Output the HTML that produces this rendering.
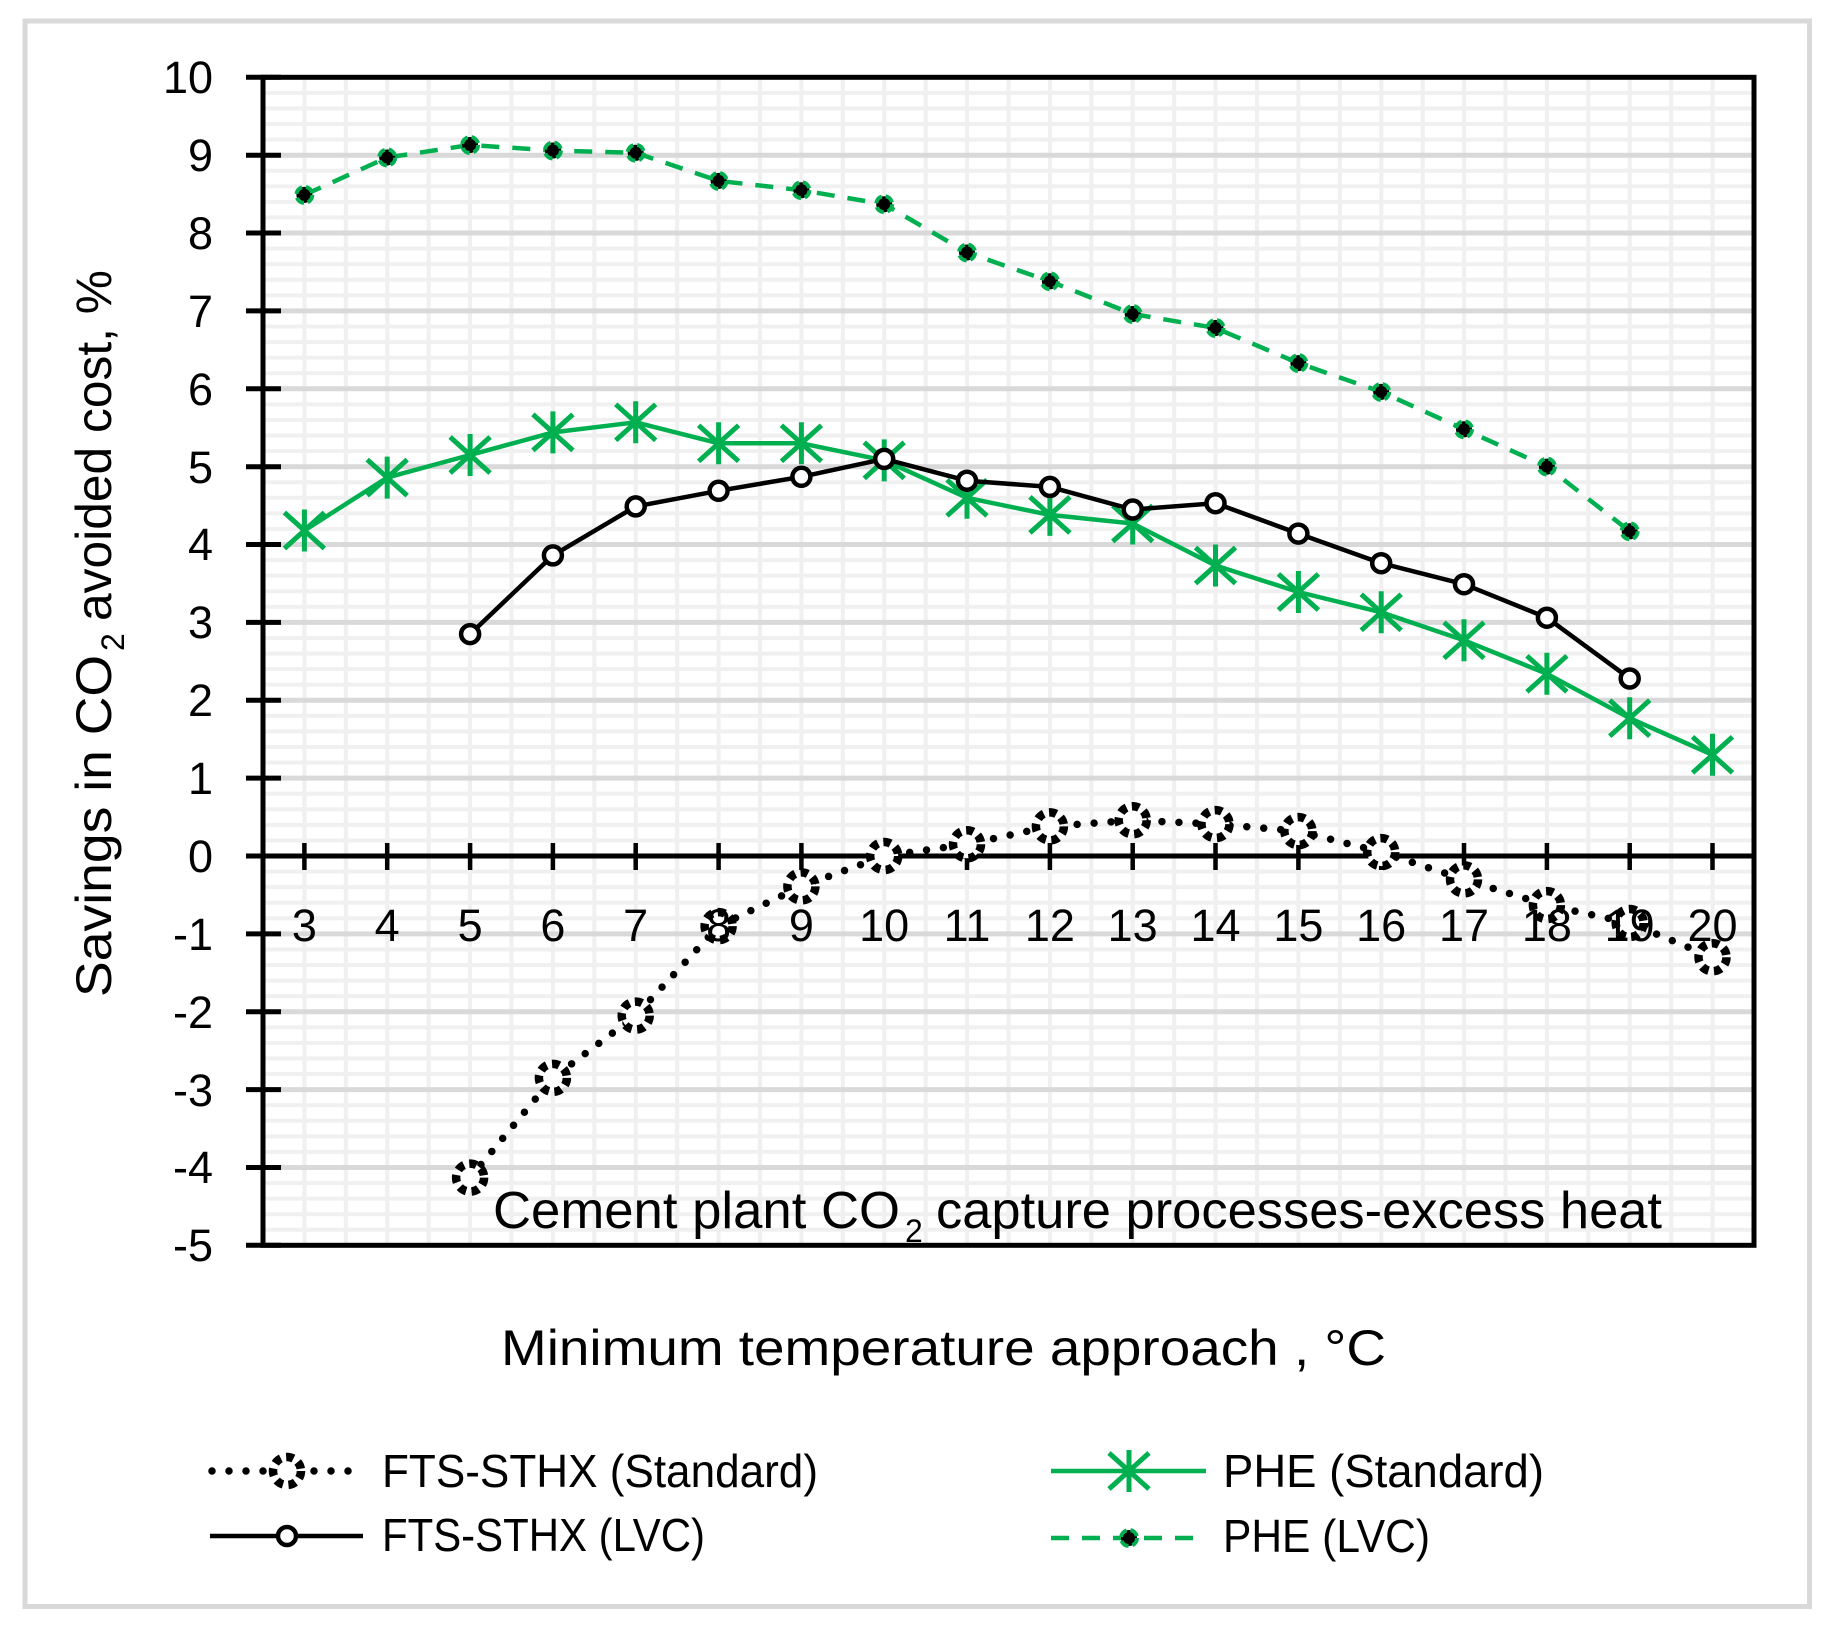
<!DOCTYPE html>
<html>
<head>
<meta charset="utf-8">
<style>
  html, body { margin: 0; padding: 0; background: #ffffff; }
  svg { display: block; }
  text { font-family: "Liberation Sans", "DejaVu Sans", sans-serif; fill: #000; }
</style>
</head>
<body>
<svg width="1828" height="1637" viewBox="0 0 1828 1637" xmlns="http://www.w3.org/2000/svg">
  <defs>
    <pattern id="grid" patternUnits="userSpaceOnUse" x="263" y="77.3" width="41.417" height="15.574">
      <rect x="0" y="0" width="41.417" height="15.574" fill="#ffffff"/>
      <rect x="0" y="-2" width="41.417" height="4" fill="#f0f0f0"/>
      <rect x="0" y="13.574" width="41.417" height="4" fill="#f0f0f0"/>
      <rect x="-2" y="0" width="4" height="15.574" fill="#f0f0f0"/>
      <rect x="39.417" y="0" width="4" height="15.574" fill="#f0f0f0"/>
    </pattern>
    <g id="mFstd"><circle cx="0" cy="0" r="14" fill="#fff" stroke="#000" stroke-width="8.5" stroke-dasharray="7.5 5.5"/></g>
    <g id="mFlvc"><circle cx="0" cy="0" r="9" fill="#fff" stroke="#000" stroke-width="4.5"/></g>
    <g id="mPstd"><path d="M-20,-18 L20,18 M-20,18 L20,-18 M0,-21 V21" stroke="#00b050" stroke-width="5" fill="none"/></g>
    <g id="mPlvc"><circle cx="0" cy="0" r="8" fill="#000" stroke="#00b050" stroke-width="4" stroke-dasharray="9 4"/></g>
  </defs>

  <!-- outer frame -->
  <rect x="25" y="21" width="1784.5" height="1585.5" fill="#ffffff" stroke="#d9d9d9" stroke-width="5"/>

  <!-- plot area grid -->
  <rect x="263" y="77.3" width="1491" height="1168" fill="url(#grid)"/>

  <!-- major horizontal gridlines -->
  <g stroke="#d9d9d9" stroke-width="5">
    <line x1="263" x2="1754" y1="155.2" y2="155.2"/>
    <line x1="263" x2="1754" y1="233.0" y2="233.0"/>
    <line x1="263" x2="1754" y1="310.9" y2="310.9"/>
    <line x1="263" x2="1754" y1="388.8" y2="388.8"/>
    <line x1="263" x2="1754" y1="466.7" y2="466.7"/>
    <line x1="263" x2="1754" y1="544.5" y2="544.5"/>
    <line x1="263" x2="1754" y1="622.4" y2="622.4"/>
    <line x1="263" x2="1754" y1="700.3" y2="700.3"/>
    <line x1="263" x2="1754" y1="778.1" y2="778.1"/>
    <line x1="263" x2="1754" y1="933.9" y2="933.9"/>
    <line x1="263" x2="1754" y1="1011.7" y2="1011.7"/>
    <line x1="263" x2="1754" y1="1089.6" y2="1089.6"/>
    <line x1="263" x2="1754" y1="1167.5" y2="1167.5"/>
  </g>

  <!-- plot border -->
  <rect x="263" y="77.3" width="1491" height="1168" fill="none" stroke="#000" stroke-width="5"/>

  <!-- y-axis ticks -->
  <g stroke="#000" stroke-width="5">
    <line x1="246" x2="281" y1="77.3" y2="77.3"/>
    <line x1="246" x2="281" y1="155.2" y2="155.2"/>
    <line x1="246" x2="281" y1="233.0" y2="233.0"/>
    <line x1="246" x2="281" y1="310.9" y2="310.9"/>
    <line x1="246" x2="281" y1="388.8" y2="388.8"/>
    <line x1="246" x2="281" y1="466.7" y2="466.7"/>
    <line x1="246" x2="281" y1="544.5" y2="544.5"/>
    <line x1="246" x2="281" y1="622.4" y2="622.4"/>
    <line x1="246" x2="281" y1="700.3" y2="700.3"/>
    <line x1="246" x2="281" y1="778.1" y2="778.1"/>
    <line x1="246" x2="281" y1="856.0" y2="856.0"/>
    <line x1="246" x2="281" y1="933.9" y2="933.9"/>
    <line x1="246" x2="281" y1="1011.7" y2="1011.7"/>
    <line x1="246" x2="281" y1="1089.6" y2="1089.6"/>
    <line x1="246" x2="281" y1="1167.5" y2="1167.5"/>
    <line x1="246" x2="281" y1="1245.3" y2="1245.3"/>
  </g>

  <!-- x axis at zero -->
  <line x1="263" x2="1754" y1="856" y2="856" stroke="#000" stroke-width="5"/>
  <g stroke="#000" stroke-width="4.5">
    <line x1="304.4" x2="304.4" y1="843" y2="870"/>
    <line x1="387.2" x2="387.2" y1="843" y2="870"/>
    <line x1="470.1" x2="470.1" y1="843" y2="870"/>
    <line x1="552.9" x2="552.9" y1="843" y2="870"/>
    <line x1="635.7" x2="635.7" y1="843" y2="870"/>
    <line x1="718.6" x2="718.6" y1="843" y2="870"/>
    <line x1="801.4" x2="801.4" y1="843" y2="870"/>
    <line x1="884.2" x2="884.2" y1="843" y2="870"/>
    <line x1="967.0" x2="967.0" y1="843" y2="870"/>
    <line x1="1049.9" x2="1049.9" y1="843" y2="870"/>
    <line x1="1132.7" x2="1132.7" y1="843" y2="870"/>
    <line x1="1215.5" x2="1215.5" y1="843" y2="870"/>
    <line x1="1298.4" x2="1298.4" y1="843" y2="870"/>
    <line x1="1381.2" x2="1381.2" y1="843" y2="870"/>
    <line x1="1464.0" x2="1464.0" y1="843" y2="870"/>
    <line x1="1546.9" x2="1546.9" y1="843" y2="870"/>
    <line x1="1629.7" x2="1629.7" y1="843" y2="870"/>
    <line x1="1712.5" x2="1712.5" y1="843" y2="870"/>
  </g>

  <!-- y tick labels -->
  <g font-size="45" text-anchor="end">
    <text x="213" y="93">10</text>
    <text x="213" y="171">9</text>
    <text x="213" y="249">8</text>
    <text x="213" y="327">7</text>
    <text x="213" y="405">6</text>
    <text x="213" y="483">5</text>
    <text x="213" y="560">4</text>
    <text x="213" y="638">3</text>
    <text x="213" y="716">2</text>
    <text x="213" y="794">1</text>
    <text x="213" y="872">0</text>
    <text x="213" y="950">-1</text>
    <text x="213" y="1028">-2</text>
    <text x="213" y="1106">-3</text>
    <text x="213" y="1183">-4</text>
    <text x="213" y="1261">-5</text>
  </g>

  <!-- annotation inside plot -->
  <text x="493" y="1228" font-size="52" textLength="407" lengthAdjust="spacingAndGlyphs">Cement plant CO</text>
  <text x="905" y="1242" font-size="32">2</text>
  <text x="936" y="1228" font-size="52" textLength="726" lengthAdjust="spacingAndGlyphs">capture processes-excess heat</text>

  <!-- Series 1: FTS-STHX (Standard) dotted -->
  <polyline fill="none" stroke="#000" stroke-width="7.5" stroke-linecap="round" stroke-linejoin="round" stroke-dasharray="0 17"
    points="470.1,1177.6 552.9,1077.9 635.7,1015.6 718.6,926.1 801.4,886.4 884.2,856 967.0,844.3 1049.9,826.4 1132.7,820.2 1215.5,824.1 1298.4,831.1 1381.2,852.1 1464.0,879.4 1546.9,905.1 1629.7,923.0 1712.5,957.2"/>
  <use href="#mFstd" x="470.1" y="1177.6"/>
  <use href="#mFstd" x="552.9" y="1077.9"/>
  <use href="#mFstd" x="635.7" y="1015.6"/>
  <use href="#mFstd" x="718.6" y="926.1"/>
  <use href="#mFstd" x="801.4" y="886.4"/>
  <use href="#mFstd" x="884.2" y="856"/>
  <use href="#mFstd" x="967.0" y="844.3"/>
  <use href="#mFstd" x="1049.9" y="826.4"/>
  <use href="#mFstd" x="1132.7" y="820.2"/>
  <use href="#mFstd" x="1215.5" y="824.1"/>
  <use href="#mFstd" x="1298.4" y="831.1"/>
  <use href="#mFstd" x="1381.2" y="852.1"/>
  <use href="#mFstd" x="1464.0" y="879.4"/>
  <use href="#mFstd" x="1546.9" y="905.1"/>
  <use href="#mFstd" x="1629.7" y="923.0"/>
  <use href="#mFstd" x="1712.5" y="957.2"/>

  <!-- Series 2: PHE (Standard) -->
  <polyline fill="none" stroke="#00b050" stroke-width="4.5" stroke-linejoin="round"
    points="304.4,530.5 387.2,477.6 470.1,455.0 552.9,432.4 635.7,422.3 718.6,443.3 801.4,443.3 884.2,460.4 967.0,497.8 1049.9,514.9 1132.7,523.5 1215.5,565.5 1298.4,592.0 1381.2,612.3 1464.0,640.3 1546.9,673.8 1629.7,718.2 1712.5,754.8"/>
  <use href="#mPstd" x="304.4" y="530.5"/>
  <use href="#mPstd" x="387.2" y="477.6"/>
  <use href="#mPstd" x="470.1" y="455.0"/>
  <use href="#mPstd" x="552.9" y="432.4"/>
  <use href="#mPstd" x="635.7" y="422.3"/>
  <use href="#mPstd" x="718.6" y="443.3"/>
  <use href="#mPstd" x="801.4" y="443.3"/>
  <use href="#mPstd" x="884.2" y="460.4"/>
  <use href="#mPstd" x="967.0" y="497.8"/>
  <use href="#mPstd" x="1049.9" y="514.9"/>
  <use href="#mPstd" x="1132.7" y="523.5"/>
  <use href="#mPstd" x="1215.5" y="565.5"/>
  <use href="#mPstd" x="1298.4" y="592.0"/>
  <use href="#mPstd" x="1381.2" y="612.3"/>
  <use href="#mPstd" x="1464.0" y="640.3"/>
  <use href="#mPstd" x="1546.9" y="673.8"/>
  <use href="#mPstd" x="1629.7" y="718.2"/>
  <use href="#mPstd" x="1712.5" y="754.8"/>

  <!-- Series 3: FTS-STHX (LVC) -->
  <polyline fill="none" stroke="#000" stroke-width="4.5" stroke-linejoin="round"
    points="470.1,634.1 552.9,555.4 635.7,506.4 718.6,490.8 801.4,476.8 884.2,458.9 967.0,480.7 1049.9,486.9 1132.7,509.5 1215.5,503.2 1298.4,533.6 1381.2,563.2 1464.0,584.2 1546.9,617.7 1629.7,678.5"/>
  <use href="#mFlvc" x="470.1" y="634.1"/>
  <use href="#mFlvc" x="552.9" y="555.4"/>
  <use href="#mFlvc" x="635.7" y="506.4"/>
  <use href="#mFlvc" x="718.6" y="490.8"/>
  <use href="#mFlvc" x="801.4" y="476.8"/>
  <use href="#mFlvc" x="884.2" y="458.9"/>
  <use href="#mFlvc" x="967.0" y="480.7"/>
  <use href="#mFlvc" x="1049.9" y="486.9"/>
  <use href="#mFlvc" x="1132.7" y="509.5"/>
  <use href="#mFlvc" x="1215.5" y="503.2"/>
  <use href="#mFlvc" x="1298.4" y="533.6"/>
  <use href="#mFlvc" x="1381.2" y="563.2"/>
  <use href="#mFlvc" x="1464.0" y="584.2"/>
  <use href="#mFlvc" x="1546.9" y="617.7"/>
  <use href="#mFlvc" x="1629.7" y="678.5"/>

  <!-- Series 4: PHE (LVC) dashed -->
  <polyline fill="none" stroke="#00b050" stroke-width="4.5" stroke-linejoin="round" stroke-dasharray="18 13"
    points="304.4,194.9 387.2,157.5 470.1,145.0 552.9,150.5 635.7,152.8 718.6,180.9 801.4,190.2 884.2,204.2 967.0,252.5 1049.9,281.3 1132.7,314.0 1215.5,328.0 1298.4,363.1 1381.2,391.9 1464.0,429.3 1546.9,466.6 1629.7,531.3"/>
  <use href="#mPlvc" x="304.4" y="194.9"/>
  <use href="#mPlvc" x="387.2" y="157.5"/>
  <use href="#mPlvc" x="470.1" y="145.0"/>
  <use href="#mPlvc" x="552.9" y="150.5"/>
  <use href="#mPlvc" x="635.7" y="152.8"/>
  <use href="#mPlvc" x="718.6" y="180.9"/>
  <use href="#mPlvc" x="801.4" y="190.2"/>
  <use href="#mPlvc" x="884.2" y="204.2"/>
  <use href="#mPlvc" x="967.0" y="252.5"/>
  <use href="#mPlvc" x="1049.9" y="281.3"/>
  <use href="#mPlvc" x="1132.7" y="314.0"/>
  <use href="#mPlvc" x="1215.5" y="328.0"/>
  <use href="#mPlvc" x="1298.4" y="363.1"/>
  <use href="#mPlvc" x="1381.2" y="391.9"/>
  <use href="#mPlvc" x="1464.0" y="429.3"/>
  <use href="#mPlvc" x="1546.9" y="466.6"/>
  <use href="#mPlvc" x="1629.7" y="531.3"/>

  <!-- x tick labels -->
  <g font-size="45" text-anchor="middle">
    <text x="304.4" y="941">3</text>
    <text x="387.2" y="941">4</text>
    <text x="470.1" y="941">5</text>
    <text x="552.9" y="941">6</text>
    <text x="635.7" y="941">7</text>
    <text x="718.6" y="941">8</text>
    <text x="801.4" y="941">9</text>
    <text x="884.2" y="941">10</text>
    <text x="967.0" y="941">11</text>
    <text x="1049.9" y="941">12</text>
    <text x="1132.7" y="941">13</text>
    <text x="1215.5" y="941">14</text>
    <text x="1298.4" y="941">15</text>
    <text x="1381.2" y="941">16</text>
    <text x="1464.0" y="941">17</text>
    <text x="1546.9" y="941">18</text>
    <text x="1629.7" y="941">19</text>
    <text x="1712.5" y="941">20</text>
  </g>

  <!-- y axis title -->
  <g transform="translate(111,997) rotate(-90)">
    <text x="0" y="0" font-size="50" textLength="342" lengthAdjust="spacingAndGlyphs">Savings in CO</text>
    <text x="346" y="13" font-size="32">2</text>
    <text x="376" y="0" font-size="50" textLength="351" lengthAdjust="spacingAndGlyphs">avoided cost, %</text>
  </g>

  <!-- x axis title -->
  <text x="501" y="1365" font-size="50" textLength="885" lengthAdjust="spacingAndGlyphs">Minimum temperature approach , °C</text>

  <!-- legend -->
  <line x1="212" x2="363" y1="1471" y2="1471" stroke="#000" stroke-width="7.5" stroke-linecap="round" stroke-dasharray="0 17"/>
  <use href="#mFstd" x="287" y="1471"/>
  <text x="382" y="1487" font-size="46" textLength="436" lengthAdjust="spacingAndGlyphs">FTS-STHX (Standard)</text>

  <line x1="210" x2="363" y1="1536" y2="1536" stroke="#000" stroke-width="4.5"/>
  <use href="#mFlvc" x="287" y="1536"/>
  <text x="382" y="1551" font-size="46" textLength="323" lengthAdjust="spacingAndGlyphs">FTS-STHX (LVC)</text>

  <line x1="1051" x2="1206" y1="1471" y2="1471" stroke="#00b050" stroke-width="4.5"/>
  <use href="#mPstd" x="1129" y="1471"/>
  <text x="1223" y="1487" font-size="46" textLength="321" lengthAdjust="spacingAndGlyphs">PHE (Standard)</text>

  <line x1="1051" x2="1206" y1="1538" y2="1538" stroke="#00b050" stroke-width="4.5" stroke-dasharray="18 13"/>
  <use href="#mPlvc" x="1129" y="1538"/>
  <text x="1223" y="1552" font-size="46" textLength="207" lengthAdjust="spacingAndGlyphs">PHE (LVC)</text>
</svg>
</body>
</html>
